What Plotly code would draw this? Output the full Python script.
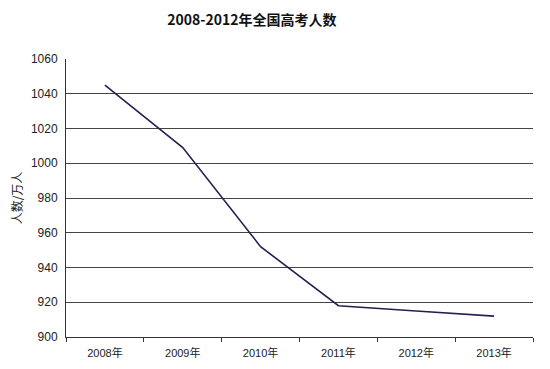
import plotly.graph_objects as go

years = ["2008年", "2009年", "2010年", "2011年", "2012年", "2013年"]
examinees = [1045, 1009, 952, 918, 915, 912]
y_ticks = [900, 920, 940, 960, 980, 1000, 1020, 1040, 1060]

fig = go.Figure()
fig.add_trace(go.Scatter(
    x=years, y=examinees, mode="lines",
    line=dict(color="#20224f", width=1.6),
    hoverinfo="x+y",
))

# page body has an 8px default margin, so the figure is drawn 8px smaller
fig.update_layout(
    width=542, height=361,
    margin=dict(l=58, r=17, t=51, b=32),
    paper_bgcolor="white", plot_bgcolor="white",
    showlegend=False,
    title=dict(text="<b>2008-2012年全国高考人数</b>", x=0.45, xanchor="center",
               y=0.967, yanchor="middle",
               font=dict(family="Noto Sans CJK SC, serif", size=14, color="#111")),
    font=dict(family="Liberation Sans, Arial, Noto Sans CJK SC", size=11, color="#222"),
)
fig.update_xaxes(
    type="category", showgrid=False, showline=True, linecolor="#333", linewidth=1,
    tickson="boundaries", ticks="outside", ticklen=4, tickcolor="#333",
    ticklabelstandoff=6,
    tickfont=dict(size=11, family="Liberation Sans, Noto Sans CJK SC"),
    range=[-0.5, len(years) - 0.5], automargin=False,
)
fig.update_yaxes(
    range=[900, 1060], tickvals=y_ticks, showgrid=True, gridcolor="#444", gridwidth=1.2,
    showline=True, linecolor="#333", linewidth=1, ticks="", zeroline=False,
    ticklabelstandoff=5,
    tickfont=dict(size=12, family="Liberation Sans, Arial"), automargin=False,
    title=dict(text="人数/万人", standoff=12,
               font=dict(size=12, family="Noto Sans CJK SC")),
)

fig.write_html("out.html")
